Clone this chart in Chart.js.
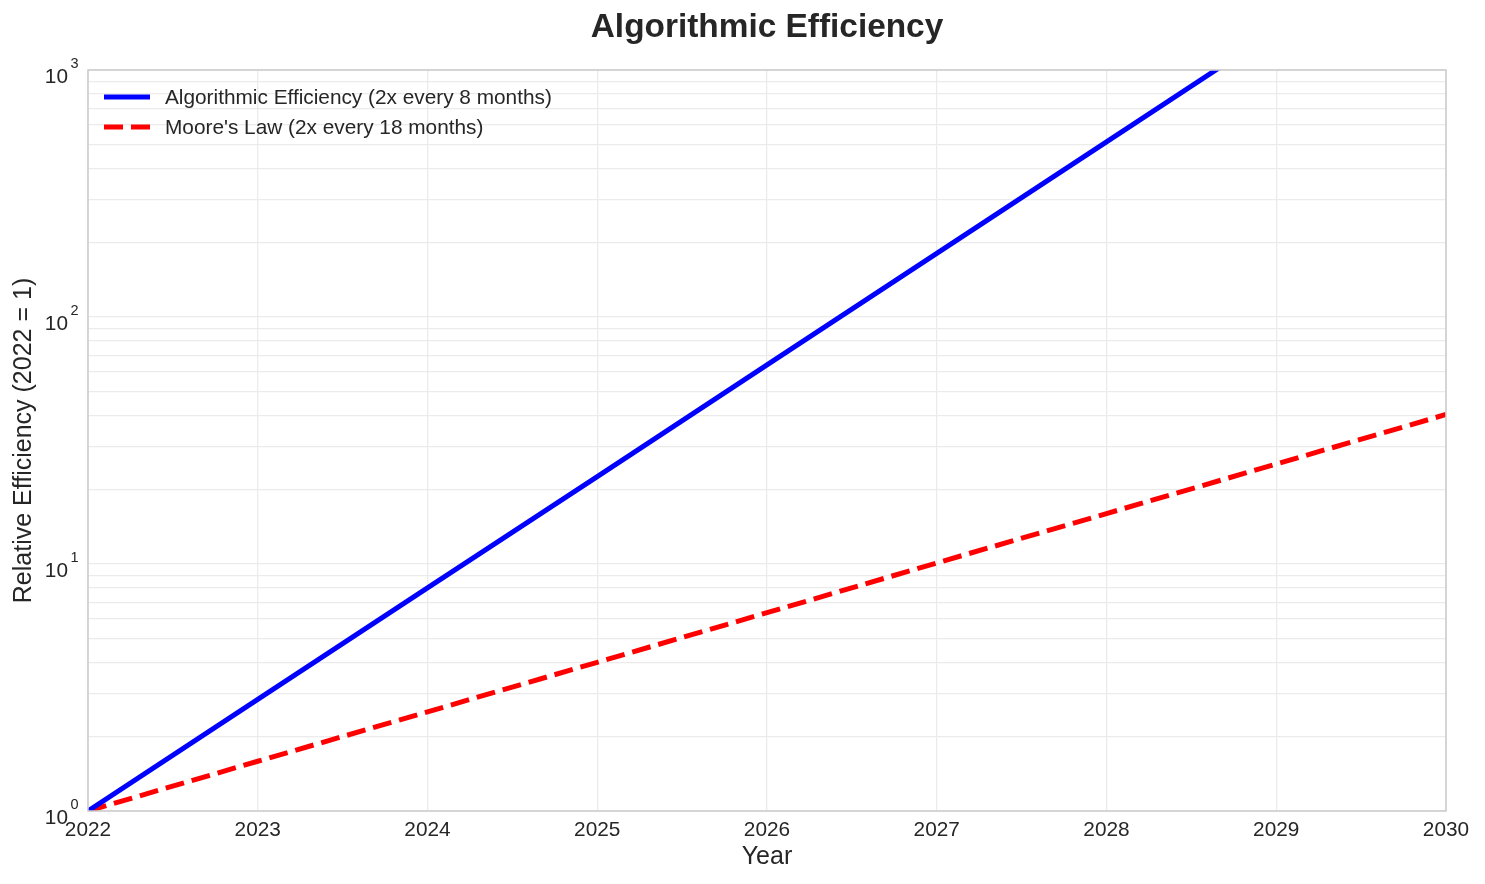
<!DOCTYPE html>
<html>
<head>
<meta charset="utf-8">
<script src="https://cdn.jsdelivr.net/npm/chart.js@4.4.0/dist/chart.umd.min.js"></script>
<style>
  html, body { margin: 0; padding: 0; background: #ffffff; }
  #wrap { width: 1485px; height: 884px; }
</style>
</head>
<body>
<div id="wrap"><canvas id="c" width="1485" height="884"></canvas></div>
<script>
// ---- data ----
const years = [2022, 2023, 2024, 2025, 2026, 2027, 2028, 2029, 2030];
const algoEfficiency = [1, 2.83, 8, 22.6, 64, 181, 512, 1448, 4096];
const mooresLaw = [1, 1.59, 2.52, 4.0, 6.35, 10.1, 16.0, 25.4, 40.3];
const seriesLabels = ["Algorithmic Efficiency (2x every 8 months)", "Moore's Law (2x every 18 months)"];
const chartTitle = 'Algorithmic Efficiency';
const yMajorExponents = [0, 1, 2, 3];
const xTickYears = [2022, 2023, 2024, 2025, 2026, 2027, 2028, 2029, 2030];

const FONT = "'Liberation Sans', Arial, Helvetica, sans-serif";
const TEXT = '#262626';

const toPoints = (xs, ys) => xs.map((x, i) => ({ x: x, y: ys[i] }));

const yTickLabelsPlugin = {
  id: 'yTickLabels',
  afterDraw(chart) {
    const ctx = chart.ctx;
    const ys = chart.scales.y;
    ctx.save();
    ctx.fillStyle = TEXT;
    yMajorExponents.forEach(e => {
      const y = ys.getPixelForValue(Math.pow(10, e));
      ctx.font = '20.8px ' + FONT;
      ctx.textAlign = 'right';
      ctx.textBaseline = 'alphabetic';
      ctx.fillText('10', 68, y + 13);
      ctx.font = '14.5px ' + FONT;
      ctx.textAlign = 'left';
      ctx.fillText(String(e), 70.5, y - 2);
    });
    ctx.restore();
  }
};

const frameLegendPlugin = {
  id: 'frameLegend',
  afterDraw(chart) {
    const ctx = chart.ctx;
    const a = chart.chartArea;
    ctx.save();
    // title centred over the plot area
    ctx.fillStyle = TEXT;
    ctx.font = 'bold 33.4px ' + FONT;
    ctx.textAlign = 'center';
    ctx.textBaseline = 'middle';
    ctx.fillText(chartTitle, (a.left + a.right) / 2, 28);
    // axes frame
    ctx.strokeStyle = '#cccccc';
    ctx.lineWidth = 1.5;
    ctx.strokeRect(a.left, a.top, a.right - a.left, a.bottom - a.top);
    // legend inside plot
    chart.data.datasets.forEach((ds, i) => {
      const y = a.top + 27 + 30 * i;
      ctx.beginPath();
      ctx.strokeStyle = ds.borderColor;
      ctx.lineWidth = ds.borderWidth;
      ctx.setLineDash(ds.borderDash || []);
      ctx.lineCap = 'butt';
      ctx.moveTo(a.left + 16, y);
      ctx.lineTo(a.left + 62, y);
      ctx.stroke();
      ctx.setLineDash([]);
      ctx.fillStyle = TEXT;
      ctx.font = '20.8px ' + FONT;
      ctx.textAlign = 'left';
      ctx.textBaseline = 'middle';
      ctx.fillText(ds.label, a.left + 77, y + 1);
    });
    ctx.restore();
  }
};

new Chart(document.getElementById('c'), {
  type: 'line',
  data: {
    datasets: [
      {
        label: seriesLabels[0],
        data: toPoints(years, algoEfficiency),
        borderColor: '#0000ff',
        borderWidth: 5,
        pointRadius: 0,
        tension: 0,
        fill: false
      },
      {
        label: seriesLabels[1],
        data: toPoints(years, mooresLaw),
        borderColor: '#ff0000',
        borderWidth: 5,
        borderDash: [19, 8],
        pointRadius: 0,
        tension: 0,
        fill: false
      }
    ]
  },
  options: {
    responsive: false,
    animation: false,
    devicePixelRatio: 1,
    layout: { padding: { left: 0, right: 39, top: 70, bottom: 0 } },
    plugins: {
      legend: { display: false },
      tooltip: { enabled: false },
      title: { display: false }
    },
    scales: {
      x: {
        type: 'linear',
        min: 2022,
        max: 2030,
        afterBuildTicks: s => { s.ticks = xTickYears.map(v => ({ value: v })); },
        afterFit: s => { s.height = 73; },
        ticks: {
          color: TEXT,
          font: { family: FONT, size: 20.8 },
          padding: 7,
          maxRotation: 0,
          autoSkip: false,
          callback: v => String(v)
        },
        grid: { color: '#ebebeb', lineWidth: 1.3, drawTicks: false },
        border: { display: false },
        title: {
          display: true,
          text: 'Year',
          color: TEXT,
          font: { family: FONT, size: 25 },
          padding: { top: 0, bottom: 12 }
        }
      },
      y: {
        type: 'logarithmic',
        min: 1,
        max: 1000,
        afterBuildTicks: s => {
          const t = [];
          for (let e = 0; e < 3; e++) {
            for (let m = 1; m < 10; m++) t.push({ value: m * Math.pow(10, e) });
          }
          t.push({ value: 1000 });
          s.ticks = t;
        },
        afterFit: s => { s.width = 88; },
        ticks: { display: false },
        grid: { color: '#ebebeb', lineWidth: 1.3, drawTicks: false },
        border: { display: false },
        title: {
          display: true,
          text: 'Relative Efficiency (2022 = 1)',
          color: TEXT,
          font: { family: FONT, size: 25 },
          padding: { top: 9, bottom: 0 }
        }
      }
    }
  },
  plugins: [yTickLabelsPlugin, frameLegendPlugin]
});
</script>
</body>
</html>
